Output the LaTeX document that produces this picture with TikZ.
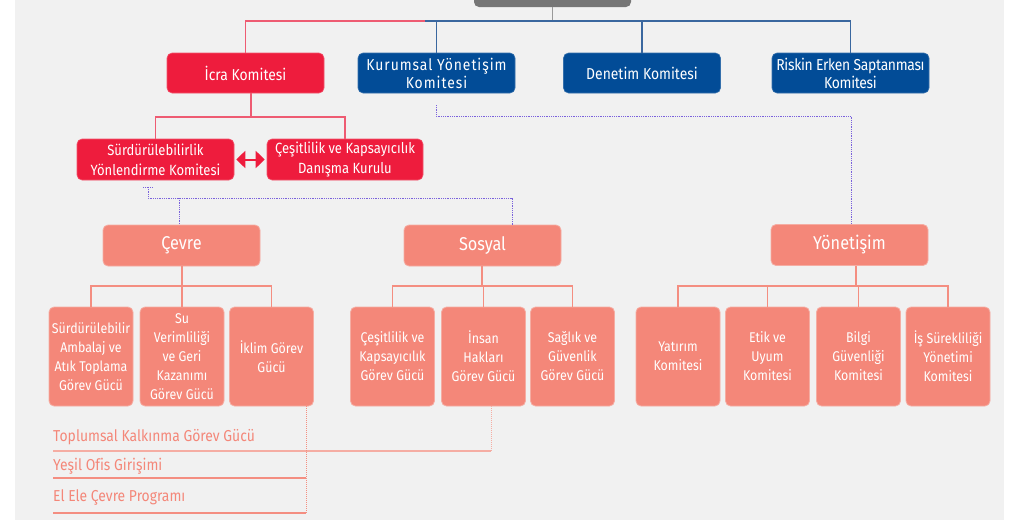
\documentclass[tikz,border=0pt]{standalone}
\usepackage{fontspec}
\setmainfont{Fira Sans}[FakeStretch=0.88, Ligatures=NoCommon]
\usetikzlibrary{arrows.meta,calc}
\definecolor{bg}{HTML}{F1F1F1}
\definecolor{topgray}{HTML}{767676}
\definecolor{cred}{HTML}{EE1C3D}
\definecolor{cblue}{HTML}{024C97}
\definecolor{salmon}{HTML}{F48779}
\definecolor{purp}{HTML}{7A62DC}
\definecolor{redln}{HTML}{EE5B72}
\definecolor{blueln}{HTML}{3A679F}
\definecolor{salln}{HTML}{F48E81}
\definecolor{sallight}{HTML}{F5ADA3}
\begin{document}
\begin{tikzpicture}[x=1pt,y=-1pt,
  box/.style={rounded corners=5pt, inner sep=0pt, align=center, text=white},
  redbox/.style={box, fill=cred, draw=cred!75!white, line width=0.6pt, minimum width=157pt, minimum height=41pt, font=\fontsize{14.8}{20}\selectfont},
  bluebox/.style={box, fill=cblue, draw=cblue!80!white, line width=0.6pt, minimum width=157pt, minimum height=40pt, font=\fontsize{15.8}{18}\selectfont},
  catbox/.style={box, fill=salmon, draw=sallight, line width=0.8pt, minimum width=157pt, minimum height=41pt, font=\fontsize{18.5}{20}\selectfont},
  leafbox/.style={box, fill=salmon, draw=sallight, line width=0.8pt, minimum width=84pt, minimum height=99pt, font=\fontsize{14.1}{19}\selectfont},
  redl/.style={draw=redln, line width=1.1pt},
  bluel/.style={draw=blueln, line width=1.1pt},
  grayl/.style={draw=gray!80, line width=1.1pt},
  sall/.style={draw=salln, line width=1.2pt},
  purpl/.style={draw=purp, line width=0.9pt, dash pattern=on 0.9pt off 0.9pt},
  listtext/.style={anchor=base west, inner sep=0pt, text=salmon, font=\fontsize{15.8}{16}\selectfont}
]
\useasboundingbox (0,0) rectangle (1031,520);
\fill[bg] (15,0) rectangle (1004,520);
\begin{scope}
\clip (0,0) rectangle (1031,520);
\node[box, fill=topgray, minimum width=157pt, minimum height=24pt] (top) at (552.5,-5) {};
\end{scope}

% row 1
\node[redbox, minimum height=40pt, font=\fontsize{15.8}{18}\selectfont] (icra) at (245.5,73) {İcra Komitesi};
\node[bluebox] (kur) at (436.5,73) {\addfontfeature{LetterSpace=6}Kurumsal Yönetişim\\\addfontfeature{LetterSpace=6}Komitesi};
\node[bluebox] (den) at (642,73) {Denetim Komitesi};
\node[bluebox] (risk) at (850.5,73) {\addfontfeature{LetterSpace=-2}Riskin Erken Saptanması\\\addfontfeature{LetterSpace=-2}Komitesi};

\coordinate (j1) at (425,21);
\draw[grayl] (top.south) -- (top.south |- j1);
\draw[redl] (icra.north) |- (j1);
\draw[bluel] (j1) -| (risk.north);
\draw[bluel] (kur.north) -- (kur.north |- j1);
\draw[bluel] (den.north) -- (den.north |- j1);

% row 2
\node[redbox] (sy) at (155.5,159.5) {Sürdürülebilirlik\\Yönlendirme Komitesi};
\node[redbox, minimum width=156pt] (ck) at (345,159.5) {Çeşitlilik ve Kapsayıcılık\\Danışma Kurulu};
\coordinate (j2) at (251,117);
\draw[redl] (icra.south -| j2) -- (j2);
\draw[redl] (sy.north) |- (j2) -| (ck.north);
\draw[cred, line width=2pt, {Triangle[length=9pt,width=17pt]}-{Triangle[length=9pt,width=17pt]}, shorten <=2pt, shorten >=2pt] (sy.east) -- (ck.west);

% row 3
\node[catbox] (cevre) at (181.5,245.5) {Çevre};
\node[catbox] (sosyal) at (482.5,245.5) {Sosyal};
\node[catbox] (yon) at (849.5,245) {Yönetişim};

% dotted purple connectors
\coordinate (p1) at (436,105);
\coordinate (p2) at (851,116);
\draw[purpl] (p1) |- (p2) -- (yon.north -| p2);
\coordinate (t1) at (143,187);
\coordinate (t2) at (153,187);
\coordinate (t3) at (148,187);
\coordinate (t4) at (512,198);
\coordinate (t5) at (179,198);
\draw[purpl] (t1) -- (t2);
\draw[purpl] (t3) |- (t4) -- (sosyal.north -| t4);
\draw[purpl] (t5) -- (cevre.north -| t5);

% row 4
\node[leafbox] (amb) at (91,356.5) {Sürdürülebilir\\Ambalaj ve\\Atık Toplama\\Görev Gücü};
\node[leafbox] (su) at (182,356.5) {Su\\Verimliliği\\ve Geri\\Kazanımı\\Görev Gücü};
\node[leafbox] (ikl) at (271.5,356.5) {İklim Görev\\Gücü};
\node[leafbox] (ces) at (392.5,356.5) {Çeşitlilik ve\\Kapsayıcılık\\Görev Gücü};
\node[leafbox] (ins) at (483.5,356.5) {İnsan\\Hakları\\Görev Gücü};
\node[leafbox] (sag) at (572.5,356.5) {Sağlık ve\\Güvenlik\\Görev Gücü};
\node[leafbox] (yat) at (678,356.5) {Yatırım\\Komitesi};
\node[leafbox] (etik) at (767.5,356.5) {Etik ve\\Uyum\\Komitesi};
\node[leafbox] (bilgi) at (858.5,356.5) {Bilgi\\Güvenliği\\Komitesi};
\node[leafbox] (is) at (948,356.5) {İş Sürekliliği\\Yönetimi\\Komitesi};

\coordinate (c1) at (182,286);
\draw[sall] (cevre.south -| c1) -- (c1);
\draw[sall] (amb.north) |- (c1) -| (ikl.north);
\draw[sall] (su.north) -- (su.north |- c1);
\coordinate (c2) at (482,286);
\draw[sall] (sosyal.south -| c2) -- (c2);
\draw[sall] (ces.north) |- (c2) -| (sag.north);
\draw[sall] (ins.north) -- (ins.north |- c2);
\coordinate (c3) at (856,286);
\draw[sall] (yon.south -| c3) -- (c3);
\draw[sall] (yat.north) |- (c3) -| (is.north);
\draw[sall] (etik.north) -- (etik.north |- c3);
\draw[sall] (bilgi.north) -- (bilgi.north |- c3);

% bottom list
\node[listtext] (l1) at (53,441) {Toplumsal Kalkınma Görev Gücü};
\node[listtext] (l2) at (53,470) {Yeşil Ofis Girişimi};
\node[listtext] (l3) at (53,501) {El Ele Çevre Programı};
\coordinate (b1) at (53,451);
\coordinate (b1e) at (491,451);
\coordinate (b2) at (53,478);
\coordinate (b2e) at (306,478);
\coordinate (b3) at (53,513);
\coordinate (b3e) at (306,513);
\draw[draw=sallight, line width=1.3pt] (b1) -- (b1e);
\draw[sall] (b2) -- (b2e);
\draw[sall] (b3) -- (b3e);
\draw[draw=sallight, line width=1pt, dash pattern=on 1pt off 1pt] (ins.south -| b1e) -- (b1e);
\draw[draw=salln, line width=1pt, dash pattern=on 1pt off 1pt] (ikl.south -| b3e) -- (b3e);
\end{tikzpicture}
\end{document}
